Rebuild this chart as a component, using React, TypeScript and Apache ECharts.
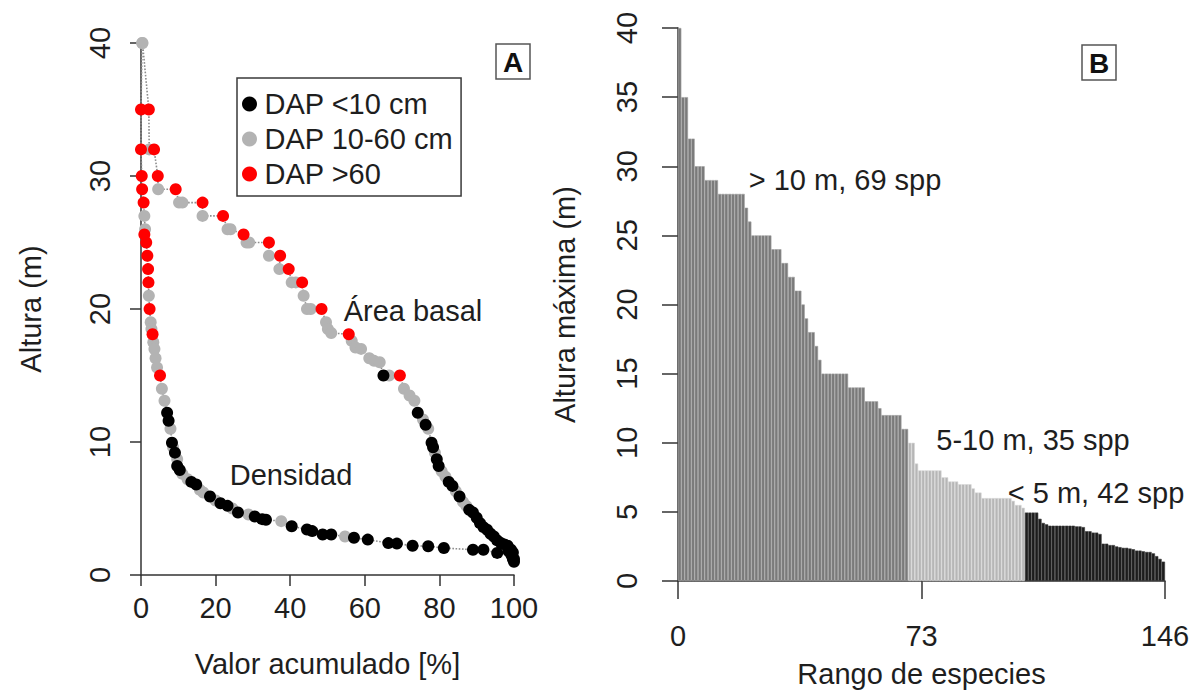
import React, { useEffect, useRef } from "react";
import * as echarts from "echarts";

const FONT = "'Liberation Sans', Arial, Helvetica, sans-serif";
const TXT = "#1e1e1e";

// ---------- Panel A: cumulative curves (x = % accumulated, y = height m, class = DAP class) ----------
const classNames = ["DAP <10 cm", "DAP 10-60 cm", "DAP >60"];
const classColors = ["#000000", "#b3b3b3", "#ff0000"];

const densX = [0.3, 0, 0, 0.2, 0.3, 0.7, 0.9, 1.1, 0.9, 1.4, 1.7, 1.9, 2, 2.1, 2.3, 2.6, 2.8, 3.1, 3.3, 3.6, 3.9, 4.3, 5.1, 5.6, 6.3, 7, 7.4, 7.9, 8.3, 8.6, 9.1, 9.7, 9.7, 10.4, 11.1, 12.5, 13.5, 14.8, 15.8, 16.7, 18.5, 20, 21.3, 23.2, 24.5, 26, 28.8, 30.5, 32.5, 33.5, 37.6, 40.4, 44.5, 45.9, 48.7, 51, 54.7, 57.1, 60.8, 66.3, 68.6, 72.8, 77, 81.2, 89, 91.8, 95.5, 98.5, 99.3, 99.7, 100];
const densY = [40, 35, 32, 30, 29, 28, 27, 26, 25.6, 25, 24, 23, 22, 21, 20, 19, 18.5, 18.1, 17.5, 17, 16.3, 15.6, 15, 14, 13.1, 12.2, 11.6, 11, 9.95, 9.6, 9.2, 8.7, 8.2, 7.9, 7.6, 7.2, 7, 6.8, 6.4, 6.2, 5.9, 5.6, 5.4, 5.2, 5, 4.7, 4.55, 4.4, 4.2, 4.15, 4.05, 3.67, 3.42, 3.3, 3.04, 3.04, 2.9, 2.8, 2.66, 2.4, 2.36, 2.2, 2.16, 2.03, 1.9, 1.9, 1.66, 1.8, 1.5, 1.2, 1.0];
const densClass = [1, 2, 2, 2, 2, 2, 1, 1, 2, 2, 2, 2, 2, 1, 2, 1, 1, 2, 1, 1, 1, 1, 2, 1, 1, 0, 0, 1, 0, 1, 0, 1, 0, 0, 1, 1, 0, 0, 1, 1, 0, 1, 0, 0, 1, 0, 1, 0, 0, 0, 1, 0, 0, 0, 0, 0, 1, 0, 0, 0, 0, 0, 0, 0, 0, 0, 0, 0, 0, 0, 0];

const areaX = [0.4, 2.1, 2.2, 3.5, 4.5, 4.6, 9.3, 10.2, 11.1, 16.5, 16.5, 22, 23.2, 24, 27.5, 28.3, 29, 34.3, 34.3, 37.3, 37.1, 39.6, 40.4, 41.5, 43.2, 43.6, 44.5, 45.5, 48.4, 49.6, 50.1, 51, 55.7, 56.5, 57.5, 59, 61.2, 62.5, 64, 65, 66.5, 69.4, 70.5, 72, 73.3, 74.2, 75.6, 76.3, 77, 77.9, 78.3, 78.8, 79.3, 79.8, 80.6, 81.6, 82.5, 83.5, 84.4, 85.4, 86.3, 87.2, 88, 89, 90, 90.9, 91.8, 92.8, 93.7, 94.6, 95.5, 96.5, 97.4, 98.3, 99.2, 99.7, 100];
const areaY = [40, 35, 32, 32, 30, 29, 29, 28, 28, 28, 27, 27, 26, 26, 25.6, 25, 25, 25, 24, 24, 23, 23, 22, 22, 22, 21, 20, 20, 20, 19, 18.5, 18.2, 18.1, 17.6, 17.1, 17, 16.3, 16.1, 16, 15, 15, 15, 14, 13.5, 13.1, 12.2, 11.7, 11.3, 11, 9.95, 9.6, 9.2, 8.7, 8.2, 7.8, 7.4, 7, 6.7, 6.3, 5.9, 5.5, 5.2, 4.9, 4.7, 4.3, 3.9, 3.6, 3.4, 3.1, 2.9, 2.6, 2.4, 2.3, 2.2, 1.9, 1.7, 1.2];
const areaClass = [1, 2, 1, 2, 2, 1, 2, 1, 1, 2, 1, 2, 1, 1, 2, 1, 1, 2, 1, 2, 1, 2, 1, 1, 2, 1, 1, 1, 2, 1, 1, 1, 2, 1, 1, 1, 1, 1, 1, 0, 1, 2, 1, 1, 1, 0, 1, 0, 1, 0, 0, 1, 0, 0, 1, 1, 0, 0, 1, 0, 1, 1, 0, 0, 0, 0, 0, 0, 0, 0, 0, 0, 0, 0, 0, 0, 0];

const xTicksA = { min: 0, max: 100, interval: 20 };
const yTicksA = { min: 0, max: 40, interval: 10 };

// ---------- Panel B: max height of 146 species, sorted ----------
const heightsTall = [40, 35, 35, 32, 32, 30, 30, 30, 29, 29, 29, 29, 28, 28, 28, 28, 28, 28, 28, 28, 27, 26, 25, 25, 25, 25, 25, 25, 24, 24, 24, 23, 23, 22, 22, 21, 21, 20, 19, 18, 18, 17, 16, 15, 15, 15, 15, 15, 15, 15, 15, 14, 14, 14, 14, 14, 13, 13, 13, 13, 12.5, 12, 12, 12, 12, 12, 12, 11, 11];
const heightsMid = [10, 10, 8.5, 8, 8, 8, 8, 8, 8, 8, 7.5, 7.5, 7.2, 7.2, 7.2, 7, 7, 7, 7, 6.7, 6.4, 6.4, 6, 6, 6, 6, 6, 6, 6, 6, 6, 5.8, 5.5, 5.5, 5.3];
const heightsLow = [4.95, 4.95, 4.95, 4.95, 4.5, 4.2, 4.1, 4, 4, 4, 4, 4, 4, 4, 4, 3.95, 3.95, 3.9, 3.6, 3.6, 3.5, 3.5, 3.4, 2.7, 2.7, 2.6, 2.6, 2.5, 2.45, 2.4, 2.4, 2.35, 2.3, 2.2, 2.2, 2.15, 2.1, 2.1, 2.0, 1.8, 1.6, 1.4];
const groupLabels = ["> 10 m, 69 spp", "5-10 m, 35 spp", "< 5 m, 42 spp"];
const groupColors = ["#7a7a7a", "#b6b6b6", "#1c1c1c"];
const groupBorders = ["#a0a0a0", "#d6d6d6", "#3c3c3c"];
const xTicksB = { min: 0, max: 146, interval: 73 };
const yTicksB = { min: 0, max: 40, interval: 5 };

const axisLineStyle = { color: "#333", width: 1.5 };
const nameStyle = { fontSize: 29, color: TXT, fontFamily: FONT };
const labelStyle = { fontSize: 29, color: TXT, fontFamily: FONT };

function buildOption() {
  const scatterData: number[][][] = [[], [], []];
  densX.forEach((x, i) => scatterData[densClass[i]].push([x, densY[i]]));
  areaX.forEach((x, i) => scatterData[areaClass[i]].push([x, areaY[i]]));

  const allHeights = [...heightsTall, ...heightsMid, ...heightsLow];
  const groupOf = (i: number) => (i < heightsTall.length ? 0 : i < heightsTall.length + heightsMid.length ? 1 : 2);
  const ranks = allHeights.map((_, i) => String(i + 1));

  const lineStyle = { type: "dotted" as const, color: "#8c8c8c", width: 1.6 };
  const scatterOrder = [1, 0, 2];

  const centered = { align: "center", verticalAlign: "middle", textAlign: "center", textVerticalAlign: "middle" };

  return {
    animation: false,
    backgroundColor: "#ffffff",
    textStyle: { fontFamily: FONT },
    legend: {
      data: classNames,
      orient: "vertical",
      left: 237,
      top: 78,
      icon: "circle",
      itemWidth: 20,
      itemHeight: 15,
      itemGap: 5,
      padding: [11, 8, 7, 5],
      backgroundColor: "#ffffff",
      borderColor: "#3a3a3a",
      borderWidth: 1.5,
      borderRadius: 0,
      selectedMode: false,
      textStyle: { fontSize: 29, color: TXT, fontFamily: FONT, lineHeight: 30 },
    },
    grid: [
      { left: 141, top: 43, width: 373, height: 532 },
      { left: 678, top: 28, width: 487, height: 554 },
    ],
    xAxis: [
      {
        gridIndex: 0,
        type: "value",
        position: "bottom",
        ...xTicksA,
        offset: 8,
        name: "Valor acumulado [%]",
        nameLocation: "middle",
        nameGap: 66,
        nameTextStyle: nameStyle,
        axisLine: { lineStyle: axisLineStyle },
        axisTick: { length: 11, lineStyle: axisLineStyle },
        splitLine: { show: false },
        axisLabel: { ...labelStyle, margin: 10 },
      },
      { gridIndex: 1, type: "category", position: "top", data: ranks, show: false, boundaryGap: true },
      {
        gridIndex: 1,
        type: "value",
        position: "bottom",
        ...xTicksB,
        offset: 0,
        name: "Rango de especies",
        nameLocation: "middle",
        nameGap: 78,
        nameTextStyle: nameStyle,
        axisLine: { lineStyle: axisLineStyle },
        axisTick: { length: 18, lineStyle: axisLineStyle },
        splitLine: { show: false },
        axisLabel: { ...labelStyle, margin: 40 },
      },
    ],
    yAxis: [
      {
        gridIndex: 0,
        type: "value",
        position: "left",
        ...yTicksA,
        offset: 18,
        name: "Altura (m)",
        nameLocation: "middle",
        nameGap: 78,
        nameTextStyle: nameStyle,
        axisLine: { lineStyle: axisLineStyle },
        axisTick: { length: 11, lineStyle: axisLineStyle },
        splitLine: { show: false },
        axisLabel: { ...labelStyle, margin: 9, rotate: 90 },
      },
      {
        gridIndex: 1,
        type: "value",
        position: "left",
        ...yTicksB,
        offset: 16,
        name: "Altura máxima (m)",
        nameLocation: "middle",
        nameGap: 83,
        nameTextStyle: nameStyle,
        axisLine: { lineStyle: axisLineStyle },
        axisTick: { length: 16, lineStyle: axisLineStyle },
        splitLine: { show: false },
        axisLabel: { ...labelStyle, margin: 21, rotate: 90 },
      },
    ],
    series: [
      {
        name: "Densidad",
        type: "line",
        xAxisIndex: 0,
        yAxisIndex: 0,
        data: densX.map((x, i) => [x, densY[i]]),
        symbol: "none",
        lineStyle,
        clip: false,
        silent: true,
        z: 1,
      },
      {
        name: "Área basal",
        type: "line",
        xAxisIndex: 0,
        yAxisIndex: 0,
        data: areaX.map((x, i) => [x, areaY[i]]),
        symbol: "none",
        lineStyle,
        clip: false,
        silent: true,
        z: 1,
      },
      ...scatterOrder.map((c) => ({
        name: classNames[c],
        type: "scatter",
        xAxisIndex: 0,
        yAxisIndex: 0,
        data: scatterData[c],
        symbol: "circle",
        symbolSize: 12,
        itemStyle: { color: classColors[c], opacity: 1 },
        clip: false,
        silent: true,
        z: 2,
      })),
      {
        name: "Altura máxima",
        type: "bar",
        xAxisIndex: 1,
        yAxisIndex: 1,
        barCategoryGap: "0%",
        barGap: "0%",
        silent: true,
        data: allHeights.map((h, i) => ({
          value: h,
          itemStyle: { color: groupColors[groupOf(i)], borderColor: groupBorders[groupOf(i)], borderWidth: 0.6 },
        })),
      },
    ],
    graphic: [
      { type: "rect", shape: { x: 496, y: 44, width: 34, height: 35 }, style: { fill: "#fff", stroke: "#555", lineWidth: 1.5 } },
      { type: "text", x: 513, y: 62, style: { text: "A", font: `bold 28px ${FONT}`, fill: "#111", ...centered } },
      { type: "rect", shape: { x: 1082, y: 45, width: 34, height: 35 }, style: { fill: "#fff", stroke: "#555", lineWidth: 1.5 } },
      { type: "text", x: 1099, y: 63, style: { text: "B", font: `bold 28px ${FONT}`, fill: "#111", ...centered } },
      { type: "text", x: 413, y: 311, style: { text: "Área basal", font: `29px ${FONT}`, fill: TXT, ...centered } },
      { type: "text", x: 291, y: 475, style: { text: "Densidad", font: `29px ${FONT}`, fill: TXT, ...centered } },
      { type: "text", x: 845, y: 180, style: { text: groupLabels[0], font: `29px ${FONT}`, fill: TXT, ...centered } },
      { type: "text", x: 1033, y: 440, style: { text: groupLabels[1], font: `29px ${FONT}`, fill: TXT, ...centered } },
      { type: "text", x: 1096, y: 493, style: { text: groupLabels[2], font: `29px ${FONT}`, fill: TXT, ...centered } },
    ],
  };
}

export default function App() {
  const ref = useRef<HTMLDivElement>(null);
  useEffect(() => {
    if (!ref.current) return;
    const chart = echarts.init(ref.current, undefined, { renderer: "svg" });
    chart.setOption(buildOption() as any);
    return () => chart.dispose();
  }, []);
  return <div ref={ref} style={{ position: "absolute", left: 0, top: 0, width: 1199, height: 693, background: "#fff" }} />;
}
